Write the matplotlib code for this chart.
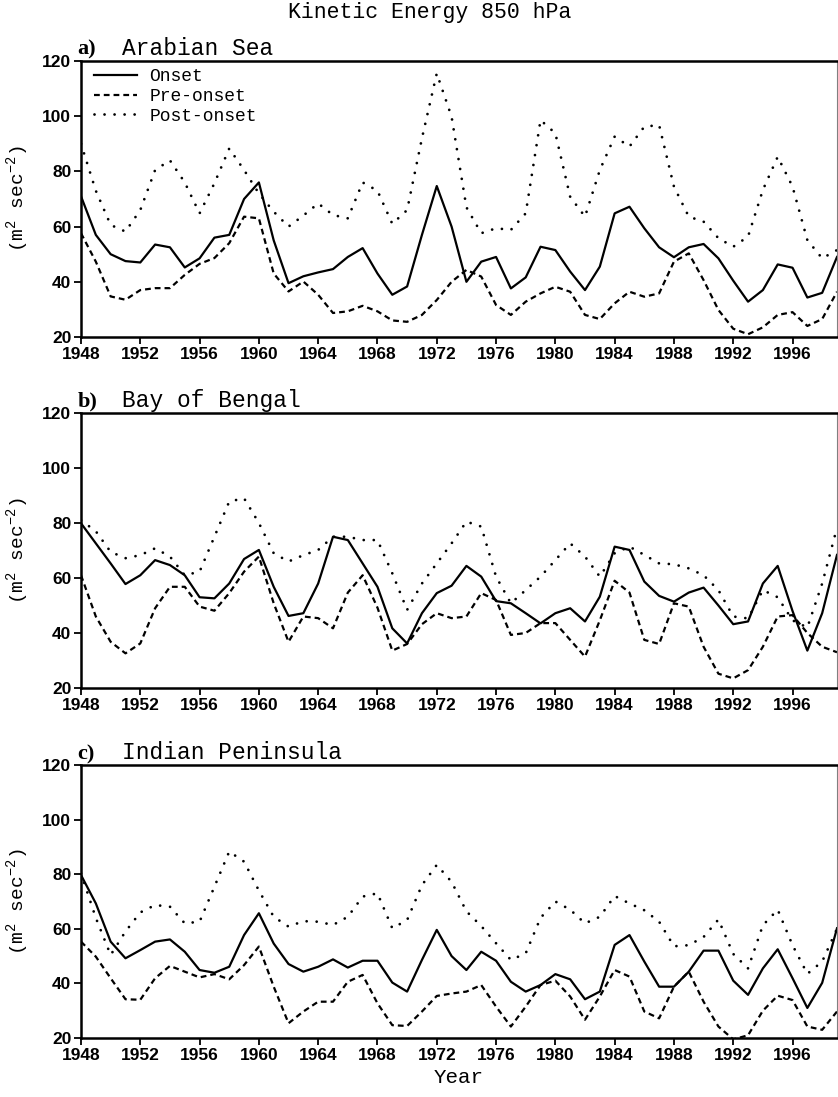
import numpy as np
import matplotlib.pyplot as plt

# years 1948-1999
years = np.arange(1948, 2000)

# Arabian Sea
as_onset = [71, 57, 50, 47.5, 47, 53.5, 52.5, 45.2, 48.5, 56,
            57, 70, 76, 55, 39.5, 42, 43.4, 44.6, 49, 52.2,
            43, 35.3, 38.3, 57, 74.7, 60, 40, 47.3, 49, 37.6,
            41.6, 52.7, 51.5, 43.7, 37, 45.5, 64.8, 67.2, 59.4, 52.5,
            48.9, 52.5, 53.7, 48.5, 40.4, 32.8, 37, 46.3, 45.1, 34.3,
            36, 49]
as_pre = [57.6, 47.3, 34.7, 33.5, 37, 37.7, 37.7, 42.5, 46.5, 48.6,
          54, 63.6, 63, 43, 36.5, 40.1, 35.3, 28.7, 29.3, 31.3,
          29.3, 26, 25.5, 28, 33.4, 40, 44.3, 41.9, 31.6, 28,
          32.8, 35.8, 38.2, 36.4, 28, 26.5, 32.2, 36.4, 34.6, 35.8,
          47.3, 50.3, 40.6, 29.8, 23, 21, 23.5, 28, 29, 24,
          26.5, 36.4]
as_post = [90, 73, 60.6, 58.2, 66, 80.5, 84, 76, 64.8, 75.7,
           88.3, 80.5, 72, 65.4, 60, 64, 68.4, 64.2, 63, 76,
           73, 61, 66, 92, 115.5, 99.8, 67, 57.6, 59.4, 58.8,
           64.8, 98.6, 93.8, 70.8, 63.6, 80.5, 92.6, 89, 96.2, 96.8,
           74.5, 63.6, 61.8, 55.8, 52.7, 56.4, 73.3, 85.3, 74.5, 55.1,
           48.5, 51.5]

# Bay of Bengal
bob_onset = [79.9, 72.6, 65.3, 57.8, 61, 66.5, 64.7, 61, 53, 52.6,
             58, 66.9, 70.2, 56.8, 46.2, 47.2, 58, 75, 73.8, 65.3,
             56.8, 41.7, 36.2, 47.2, 54.5, 57.2, 64.4, 60.5, 51.6, 50.8,
             47.2, 43.5, 47.2, 49, 44.2, 53.2, 71.4, 70.2, 58.7, 53.5,
             51.4, 54.7, 56.5, 50, 43.2, 44.2, 58, 64.4, 48, 33.6,
             47.2, 68.4]
bob_pre = [61, 46, 36.8, 32.6, 36.2, 49, 56.8, 56.8, 49.6, 48.1,
           54.5, 62.3, 67.8, 50.8, 36.8, 46, 45.4, 41.7, 54.7, 61,
           49.2, 33.6, 36, 43.2, 47.2, 45.4, 46, 54.5, 52, 39.3,
           40, 43.6, 43.6, 37.5, 31.4, 44.6, 59, 54.7, 37.5, 36,
           50.8, 49.6, 35, 25.2, 23.5, 26.5, 35, 46, 46.5, 40,
           35, 33]
bob_post = [81, 77, 69.5, 67.2, 68.3, 70.8, 67.8, 61, 62.3, 75,
            87.8, 89, 80, 69, 66, 68.3, 70.2, 75, 75, 73.8,
            73.8, 61.7, 48.4, 58, 65.3, 72.6, 80.5, 78.7, 60.5, 50.8,
            55.6, 60.5, 66.5, 72.6, 67.8, 60.5, 69, 71.4, 68.4, 65.3,
            65, 63.5, 61, 55.6, 46, 45.3, 55.6, 53, 44.6, 42,
            58, 78.3]

# Indian Peninsula
ip_onset = [79.7, 69.3, 55.3, 49.2, 52.2, 55.3, 56.1, 51.6, 44.9, 43.9,
            46.1, 57.7, 65.7, 54.6, 47.1, 44.3, 46.1, 48.8, 45.8, 48.3,
            48.3, 40.3, 37, 48.6, 59.6, 50, 44.9, 51.6, 48.3, 40.6,
            37, 39.4, 43.4, 41.5, 34.2, 37, 54.1, 57.7, 48, 38.8,
            38.8, 44.3, 52, 52, 41, 35.8, 45.5, 52.5, 41.9, 31,
            40.2, 60.2]
ip_pre = [55.3, 49.8, 41.9, 34.2, 34, 41.9, 46.4, 44.3, 42.2, 43.4,
          41.5, 46.7, 53.5, 38.8, 25.4, 29.7, 33.3, 33.3, 40.6, 43.1,
          32.7, 24.7, 24.4, 29.7, 35.4, 36.3, 37, 39.4, 31.5, 24.2,
          31.5, 39.4, 41, 35.2, 26.7, 35.2, 44.9, 42.5, 29.7, 27.2,
          38.8, 44.3, 33.3, 24.2, 19.5, 21, 30, 35.5, 33.9, 24.2,
          23, 29.7]
ip_post = [80.3, 64, 50.4, 59, 66, 68.7, 68.1, 62, 62.6, 75.4,
           88.3, 84.6, 74, 64.4, 60.8, 62.8, 62.6, 61.4, 64.4, 71.8,
           73, 60.2, 63.2, 76, 83.4, 77.2, 66.4, 61, 54.7, 48.6,
           51, 64, 70, 67, 62, 64.4, 72, 69.3, 66.8, 62.6,
           53.6, 54, 57, 63.4, 50.8, 45.5, 61.3, 67, 54, 43.5,
           48, 60]

letters = ['a)', 'b)', 'c)']
regions = ['Arabian Sea', 'Bay of Bengal', 'Indian Peninsula']
onset = [as_onset, bob_onset, ip_onset]
pre = [as_pre, bob_pre, ip_pre]
post = [as_post, bob_post, ip_post]

mono = ['Liberation Mono', 'DejaVu Sans Mono']
tickfont = {'family': 'Liberation Sans', 'weight': 'bold', 'size': 12.5}

plt.rcParams['mathtext.fontset'] = 'custom'
plt.rcParams['mathtext.rm'] = 'Liberation Mono'
plt.rcParams['mathtext.default'] = 'rm'

fig = plt.figure(figsize=(8.38, 10.97), dpi=100)
W, H = 838, 1097
# axes boxes in pixels: (top, bottom)
boxes = [(61, 337), (413, 688), (765, 1038)]
left_px, right_px = 81, 837

for i, (top, bot) in enumerate(boxes):
    ax = fig.add_axes([left_px / W, 1 - bot / H, (right_px - left_px) / W, (bot - top) / H])
    ax.plot(years, onset[i], color='black', lw=1.6, ls='-', label='Onset')
    ax.plot(years, pre[i], color='black', lw=1.6, ls=(0, (2.6, 1.8)), label='Pre-onset')
    ax.plot(years, post[i], color='black', lw=2.0, ls=(0, (0.01, 3.6)),
            dash_capstyle='round', label='Post-onset')

    ax.set_xlim(1948, 1999)
    ax.set_ylim(20, 120)
    ax.set_xticks(np.arange(1948, 1999, 4))
    ax.set_yticks(np.arange(20, 121, 20))
    ax.tick_params(direction='out', length=5, width=1.3, pad=2)
    for lab in ax.get_xticklabels() + ax.get_yticklabels():
        lab.set_fontproperties(tickfont)
    for sp in ['left', 'bottom', 'top']:
        ax.spines[sp].set_linewidth(1.8)
    ax.spines['right'].set_linewidth(0.8)
    ax.spines['right'].set_color('0.5')

    ax.set_ylabel(r'(m$^{2}$ sec$^{-2}$)', family=mono, fontsize=14, labelpad=8)

    ax.text(-0.005, 1.022, letters[i], transform=ax.transAxes, va='baseline',
            ha='left', family='Liberation Serif', weight='bold', fontsize=16)
    ax.text(0.054, 1.022, regions[i], transform=ax.transAxes, va='baseline',
            ha='left', family=mono, fontsize=16.5)

    if i == 0:
        ax.legend(loc='upper left', bbox_to_anchor=(0.007, 1.0), frameon=False,
                  prop={'family': mono, 'size': 13}, handlelength=2.4,
                  handletextpad=0.7, labelspacing=0.15, borderaxespad=0.0)
    if i == 2:
        ax.set_xlabel('Year', family=mono, fontsize=15, labelpad=4)

fig.text(0.513, 0.989, 'Kinetic Energy 850 hPa', ha='center', va='center',
         family=mono, fontsize=15.5)

fig.savefig('out.png', dpi=100)
